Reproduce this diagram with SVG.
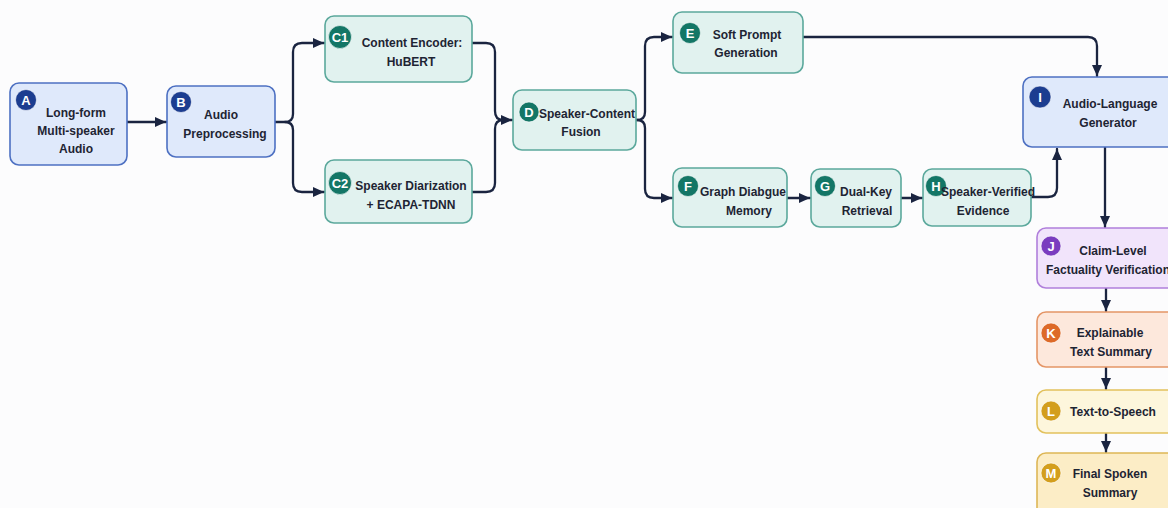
<svg xmlns="http://www.w3.org/2000/svg" width="1168" height="508" viewBox="0 0 1168 508">
  <style>
    .box { stroke-width: 1.6; }
    .blue { fill: #dfe9fb; stroke: #4d70c2; }
    .teal { fill: #e1f2ef; stroke: #5ba89c; }
    .purple { fill: #f1e4fb; stroke: #b07fdb; }
    .orange { fill: #fde8dc; stroke: #e49566; }
    .yellow { fill: #fdf6dc; stroke: #e2c15c; }
    .gold { fill: #fcedc6; stroke: #ddb656; }
    .b-blue { fill: #1c3d90; }
    .b-teal { fill: #137666; }
    .b-purple { fill: #7a3cbf; }
    .b-orange { fill: #dd6a28; }
    .b-gold { fill: #d39e1d; }
    .badge { stroke: #ffffff; stroke-width: 1; stroke-opacity: 0.6; }
    .bl { font-family: "Liberation Sans", Arial, sans-serif; font-weight: 700; font-size: 13px; fill: #ffffff; text-anchor: middle; }
    .t { font-family: "Liberation Sans", Arial, sans-serif; font-weight: 700; font-size: 12px; fill: #1e2433; text-anchor: middle; }
    .wire { fill: none; stroke: #1a2440; stroke-width: 2.3; stroke-linejoin: round; stroke-linecap: round; }
  </style>
  <defs>
    <marker id="arrow" markerUnits="userSpaceOnUse" markerWidth="12" markerHeight="12" viewBox="0 0 12 12" refX="11" refY="6" orient="auto">
      <path d="M0,1 L11,6 L0,11 Z" fill="#1a2440"/>
    </marker>
  </defs>

  <rect width="1168" height="508" fill="#fcfcfd"/>

  <!-- connectors -->
  <g id="connectors">
    <path class="wire" d="M127,122 H166" marker-end="url(#arrow)"/>
    <path class="wire" d="M275,122 H285 Q293,122 293,114 V52 Q293,43 302,43 H324" marker-end="url(#arrow)"/>
    <path class="wire" d="M285,122 Q293,122 293,130 V183 Q293,192 302,192 H324" marker-end="url(#arrow)"/>
    <path class="wire" d="M472,43 H486 Q495,43 495,52 V111 Q495,120 503,120 H512" marker-end="url(#arrow)"/>
    <path class="wire" d="M472,192 H486 Q495,192 495,183 V129 Q495,120 503,120"/>
    <path class="wire" d="M636,120 H637 Q645,120 645,112 V46 Q645,37 654,37 H672" marker-end="url(#arrow)"/>
    <path class="wire" d="M637,120 Q645,120 645,128 V189 Q645,198 654,198 H672" marker-end="url(#arrow)"/>
    <path class="wire" d="M803,37 H1088 Q1097,37 1097,46 V76" marker-end="url(#arrow)"/>
    <path class="wire" d="M787,198 H810" marker-end="url(#arrow)"/>
    <path class="wire" d="M901,198 H922" marker-end="url(#arrow)"/>
    <path class="wire" d="M1031,197 H1048 Q1057,197 1057,188 V149" marker-end="url(#arrow)"/>
    <path class="wire" d="M1105,147 V227" marker-end="url(#arrow)"/>
    <path class="wire" d="M1106,288 V311" marker-end="url(#arrow)"/>
    <path class="wire" d="M1106,367 V389" marker-end="url(#arrow)"/>
    <path class="wire" d="M1106,433 V452" marker-end="url(#arrow)"/>
  </g>

  <g id="node-A">
    <rect class="box blue" x="10" y="83" width="117" height="82" rx="9"/>
    <circle class="badge b-blue" cx="26" cy="100" r="10.5"/>
    <text class="bl" x="26" y="104.5">A</text>
    <text class="t" x="76" y="116.5" font-size="12.6">Long-form</text>
    <text class="t" x="76" y="134.5" font-size="12.6">Multi-speaker</text>
    <text class="t" x="76" y="152.5" font-size="12.6">Audio</text>
  </g>

  <g id="node-B">
    <rect class="box blue" x="167" y="86" width="108" height="71" rx="9"/>
    <circle class="badge b-blue" cx="181" cy="102" r="10.5"/>
    <text class="bl" x="181" y="106.5">B</text>
    <text class="t" x="221" y="118.5" font-size="12.2">Audio</text>
    <text class="t" x="225" y="137.5" font-size="12.2">Preprocessing</text>
  </g>

  <g id="node-C1">
    <rect class="box teal" x="325" y="16" width="147" height="66" rx="9"/>
    <circle class="badge b-teal" cx="340" cy="37" r="11.5"/>
    <text class="bl" x="340" y="41.5" font-size="12">C1</text>
    <text class="t" x="412" y="47" font-size="11.4">Content Encoder:</text>
    <text class="t" x="411" y="65.5" font-size="11.4">HuBERT</text>
  </g>

  <g id="node-C2">
    <rect class="box teal" x="325" y="160" width="147" height="63" rx="9"/>
    <circle class="badge b-teal" cx="340" cy="183" r="11.5"/>
    <text class="bl" x="340" y="187.5" font-size="12">C2</text>
    <text class="t" x="411" y="190" font-size="11.5">Speaker Diarization</text>
    <text class="t" x="411" y="209" font-size="11.5">+ ECAPA-TDNN</text>
  </g>

  <g id="node-D">
    <rect class="box teal" x="513" y="90" width="123" height="60" rx="9"/>
    <circle class="badge b-teal" cx="529" cy="112" r="10"/>
    <text class="bl" x="529" y="116.5">D</text>
    <text class="t" x="587" y="118" font-size="11.1">Speaker-Content</text>
    <text class="t" x="581" y="135.5" font-size="11.2">Fusion</text>
  </g>

  <g id="node-E">
    <rect class="box teal" x="673" y="12" width="130" height="61" rx="9"/>
    <circle class="badge b-teal" cx="690" cy="33" r="10.5"/>
    <text class="bl" x="690" y="37.5">E</text>
    <text class="t" x="747" y="38.5" font-size="12.2">Soft Prompt</text>
    <text class="t" x="746" y="56.5" font-size="12.2">Generation</text>
  </g>

  <g id="node-F">
    <rect class="box teal" x="673" y="168" width="114" height="59" rx="9"/>
    <circle class="badge b-teal" cx="688" cy="186" r="10.5"/>
    <text class="bl" x="688" y="190.5">F</text>
    <text class="t" x="743" y="196" font-size="11.1">Graph Diabgue</text>
    <text class="t" x="749" y="215" font-size="11.1">Memory</text>
  </g>

  <g id="node-G">
    <rect class="box teal" x="811" y="169" width="90" height="58" rx="9"/>
    <circle class="badge b-teal" cx="825" cy="186" r="10.5"/>
    <text class="bl" x="825" y="190.5">G</text>
    <text class="t" x="866" y="196" font-size="11.3">Dual-Key</text>
    <text class="t" x="867" y="215" font-size="11.3">Retrieval</text>
  </g>

  <g id="node-H">
    <rect class="box teal" x="923" y="169" width="108" height="57" rx="9"/>
    <circle class="badge b-teal" cx="936" cy="186" r="10.5"/>
    <text class="bl" x="936" y="190.5">H</text>
    <text class="t" x="988" y="195.5" font-size="10.2">Speaker-Verified</text>
    <text class="t" x="983" y="214.5" font-size="11">Evidence</text>
  </g>

  <g id="node-I">
    <rect class="box blue" x="1023" y="77" width="165" height="70" rx="9"/>
    <circle class="badge b-blue" cx="1040" cy="97" r="11"/>
    <text class="bl" x="1040" y="101.5">I</text>
    <text class="t" x="1110" y="107.5" font-size="12.8">Audio-Language</text>
    <text class="t" x="1108" y="126.5" font-size="12.8">Generator</text>
  </g>

  <g id="node-J">
    <rect class="box purple" x="1037" y="228" width="150" height="60" rx="9"/>
    <circle class="badge b-purple" cx="1051" cy="246" r="10"/>
    <text class="bl" x="1051" y="250.5">J</text>
    <text class="t" x="1113" y="254.5" font-size="12">Claim-Level</text>
    <text class="t" x="1108" y="274" font-size="11.3">Factuality Verification</text>
  </g>

  <g id="node-K">
    <rect class="box orange" x="1037" y="312" width="150" height="55" rx="9"/>
    <circle class="badge b-orange" cx="1051" cy="333" r="10"/>
    <text class="bl" x="1051" y="337.5">K</text>
    <text class="t" x="1110" y="337" font-size="11.6">Explainable</text>
    <text class="t" x="1111" y="355.5" font-size="11.6">Text Summary</text>
  </g>

  <g id="node-L">
    <rect class="box yellow" x="1037" y="390" width="150" height="43" rx="9"/>
    <circle class="badge b-gold" cx="1051" cy="411" r="10"/>
    <text class="bl" x="1051" y="415.5">L</text>
    <text class="t" x="1113" y="416" font-size="12.2">Text-to-Speech</text>
  </g>

  <g id="node-M">
    <rect class="box gold" x="1037" y="453" width="150" height="70" rx="9"/>
    <circle class="badge b-gold" cx="1051" cy="473" r="10"/>
    <text class="bl" x="1051" y="477.5">M</text>
    <text class="t" x="1110" y="477.5" font-size="12">Final Spoken</text>
    <text class="t" x="1110" y="496.5" font-size="12">Summary</text>
  </g>
</svg>
